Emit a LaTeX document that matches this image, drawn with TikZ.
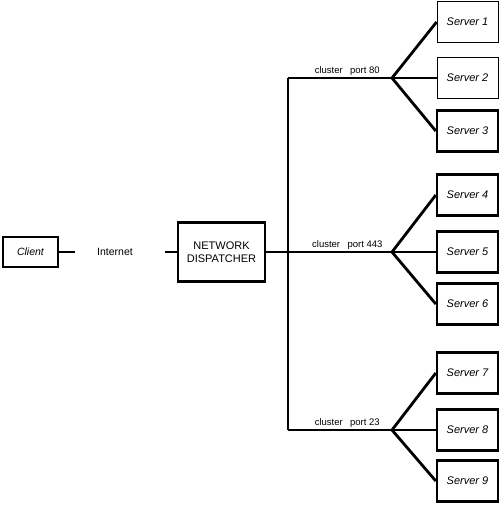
\documentclass[tikz,border=0pt]{standalone}
\usepackage{fontspec}
\setmainfont{Liberation Sans}
\usetikzlibrary{shapes.geometric,arrows}

\begin{document}
\begin{tikzpicture}[x=1pt, y=1pt]
      \tikzstyle{link} = [line width=2.8pt]
      \tikzstyle{server} = [rectangle, minimum width=61pt, minimum height=41pt, inner sep=0pt, draw=black, line width=2.4pt, font=\itshape\fontsize{11}{12}\selectfont]
      \tikzstyle{serverthin} = [server, line width=0.8pt]
      \tikzstyle{clientbox} = [rectangle, minimum width=55pt, minimum height=30pt, inner sep=0pt, draw=black, line width=2pt, font=\itshape\fontsize{10.5}{12}\selectfont]
      \tikzstyle{dispatcher} = [rectangle, minimum width=87pt, minimum height=59pt, inner sep=0pt, align=center, draw=black, line width=2.6pt, font=\fontsize{11}{13.5}\selectfont]
      \tikzstyle{portlabel} = [inner sep=1.5pt, font=\fontsize{9.5}{10}\selectfont]

      \useasboundingbox (0,0) rectangle (500,508);

      \node[clientbox] (client) at (30.5, 256) {Client};
      \node (internet) [font=\fontsize{10.5}{12}\selectfont] at (115, 256) {Internet};
      \coordinate (net-in) at (75, 256);
      \coordinate (net-out) at (165, 256);
      \node[dispatcher] (disp) at (221.5, 256) {NETWORK\\DISPATCHER};
      \coordinate (bus-top) at (288, 430);
      \coordinate (bus-bot) at (288, 78);
      \draw [link] (client) -- (net-in);
      \draw [link] (net-out) -- (disp);
      \draw [link] (bus-top) -- (bus-bot);

       \foreach \g/\y/\port in {1/430/80, 2/256/443, 3/78/23}
       {
         \coordinate (bus-\g) at (288, \y);
         \coordinate (hub-\g) at (392, \y);
         \draw [link] (bus-\g) -- node[portlabel, pos=0.57, above] {cluster\enspace\ port \port} (hub-\g);
       }
       \draw [link] (disp) -- (bus-2);

       \foreach \i/\g/\y/\sty in {1/1/486/serverthin, 2/1/430/serverthin, 3/1/377/server,
                                  4/2/313/server, 5/2/256/server, 6/2/204/server,
                                  7/3/135/server, 8/3/78/server, 9/3/27/server}
       {
         \node[\sty] (S-\i) at (467.5, \y) {Server \i};
         \draw [link] (hub-\g) -- (S-\i.west);
       }
  \end{tikzpicture}
\end{document}
